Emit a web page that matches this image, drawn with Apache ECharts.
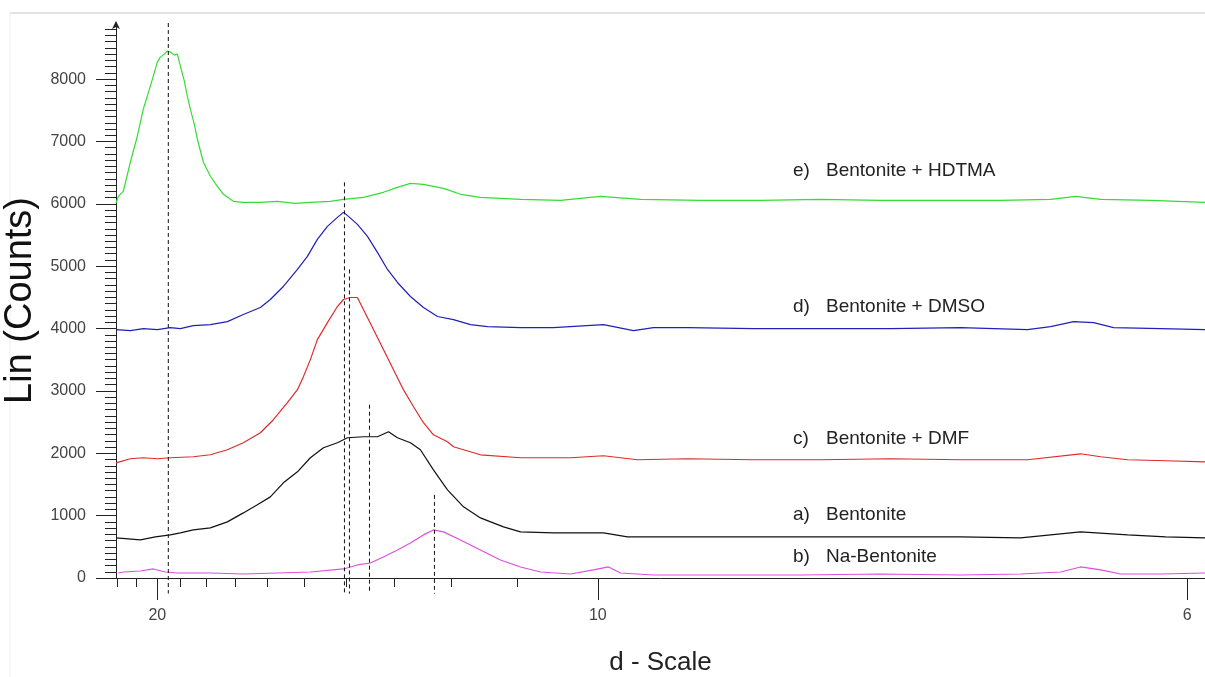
<!DOCTYPE html>
<html>
<head>
<meta charset="utf-8">
<script src="https://cdn.jsdelivr.net/npm/echarts@6/dist/echarts.min.js"></script>
<style>
html,body{margin:0;padding:0;background:#fff;}
#chart{width:1205px;height:677px;}
</style>
</head>
<body>
<div id="chart"></div>
<script>
// X-ray wavelength (Cu K-alpha), used to map d-spacing to 2-theta
const LAMBDA = 1.5406;

// Tick labels on the d-scale (Angstrom) and the unlabelled minor ticks
const dLabels = [20, 10, 6];
const dMinorTicks = [22, 21, 19, 18, 17, 16, 15, 14, 13, 12, 11];
const yTicks = [0, 1000, 2000, 3000, 4000, 5000, 6000, 7000, 8000];

// Series: [2-theta (deg), counts]
const hdtma = [[4.0,6010],[4.023,6120],[4.073,6201],[4.144,6667],[4.214,7084],[4.274,7518],[4.345,7887],[4.415,8273],[4.445,8353],[4.485,8401],[4.515,8450],[4.545,8434],[4.586,8385],[4.616,8401],[4.646,8209],[4.686,7968],[4.716,7727],[4.746,7518],[4.786,7277],[4.817,7036],[4.877,6667],[4.947,6442],[5.017,6281],[5.078,6153],[5.178,6040],[5.278,6024],[5.449,6024],[5.620,6040],[5.801,6008],[5.951,6024],[6.152,6040],[6.283,6072],[6.483,6104],[6.684,6185],[6.825,6265],[6.955,6329],[7.086,6313],[7.287,6249],[7.458,6153],[7.658,6104],[8.060,6072],[8.461,6056],[8.862,6120],[9.264,6072],[9.866,6056],[10.468,6056],[11.071,6072],[11.673,6056],[12.275,6056],[12.878,6056],[13.380,6072],[13.632,6120],[13.883,6072],[14.385,6056],[14.93,6024]];

const dmso = [[4.0,3984],[4.144,3968],[4.274,4000],[4.415,3984],[4.545,4016],[4.646,4000],[4.776,4048],[4.947,4064],[5.118,4112],[5.278,4225],[5.449,4337],[5.549,4466],[5.680,4675],[5.821,4948],[5.921,5157],[6.021,5430],[6.122,5638],[6.222,5783],[6.283,5863],[6.333,5799],[6.423,5671],[6.524,5478],[6.624,5221],[6.725,4948],[6.825,4739],[6.955,4514],[7.086,4337],[7.227,4193],[7.387,4144],[7.558,4064],[7.728,4032],[8.060,4016],[8.390,4016],[8.893,4064],[9.194,3968],[9.395,4016],[9.737,4016],[10.399,4000],[11.071,4000],[11.774,4000],[12.477,4016],[13.149,3984],[13.380,4032],[13.611,4112],[13.812,4096],[14.013,4016],[14.485,4000],[14.93,3984]];

const dmf = [[4.0,1847],[4.144,1912],[4.274,1928],[4.415,1912],[4.545,1928],[4.776,1944],[4.947,1976],[5.118,2056],[5.278,2169],[5.449,2329],[5.580,2538],[5.720,2811],[5.821,3020],[5.881,3229],[5.951,3502],[6.021,3823],[6.122,4096],[6.222,4353],[6.283,4466],[6.353,4498],[6.423,4498],[6.483,4305],[6.584,3984],[6.684,3663],[6.785,3341],[6.885,3020],[6.986,2747],[7.086,2490],[7.186,2297],[7.327,2185],[7.387,2104],[7.658,1976],[8.060,1928],[8.562,1928],[8.893,1960],[9.234,1896],[9.737,1912],[10.399,1896],[11.071,1896],[11.774,1912],[12.477,1896],[13.149,1896],[13.681,1992],[13.883,1944],[14.154,1896],[14.536,1880],[14.93,1863]];

const bentonite = [[4.0,643],[4.245,610],[4.395,659],[4.545,691],[4.646,723],[4.776,771],[4.947,803],[5.118,900],[5.278,1044],[5.419,1173],[5.549,1301],[5.680,1526],[5.821,1703],[5.951,1928],[6.082,2088],[6.222,2169],[6.323,2249],[6.483,2265],[6.624,2265],[6.735,2345],[6.825,2249],[6.955,2169],[7.055,2056],[7.186,1735],[7.327,1414],[7.488,1141],[7.658,964],[7.889,819],[8.060,739],[8.390,723],[8.893,723],[9.134,659],[9.737,659],[10.399,659],[11.071,659],[11.774,659],[12.477,659],[13.079,643],[13.681,739],[14.154,691],[14.536,659],[14.93,643]];

const naBentonite = [[4.023,80],[4.073,96],[4.245,112],[4.375,145],[4.495,96],[4.616,80],[4.947,80],[5.278,64],[5.620,80],[5.951,96],[6.283,145],[6.353,177],[6.423,209],[6.553,241],[6.684,337],[6.825,450],[6.955,562],[7.086,691],[7.186,771],[7.287,739],[7.458,610],[7.658,450],[7.859,289],[8.060,177],[8.261,96],[8.562,64],[8.792,129],[8.943,177],[9.064,80],[9.394,48],[10.067,48],[10.870,48],[11.673,64],[12.477,48],[13.079,64],[13.481,96],[13.681,177],[13.883,129],[14.083,64],[14.485,64],[14.93,80]];

// Dashed reference lines at peak positions: [2-theta, top count]
const peakMarks = [[4.525,8900],[6.293,6345],[6.343,4948],[6.544,2779],[7.196,1333]];

// Labels on the right, [letter, sample]
const sampleLabels = [['e)','Bentonite + HDTMA'],['d)','Bentonite + DMSO'],['c)','Bentonite + DMF'],['a)','Bentonite'],['b)','Na-Bentonite']];

function dToTwoTheta(d){ return 2 * Math.asin(LAMBDA / (2 * d)) * 180 / Math.PI; }
function twoThetaToD(t){ return LAMBDA / (2 * Math.sin(t / 2 * Math.PI / 180)); }

const chart = echarts.init(document.getElementById('chart'), null, {renderer:'canvas'});

const labelFont = '"Liberation Sans", Arial, sans-serif';
const lineSeries = [
  {data: hdtma, color: '#33dd33'},
  {data: dmso, color: '#2020bb'},
  {data: dmf, color: '#e02a2a'},
  {data: bentonite, color: '#111111'},
  {data: naBentonite, color: '#dd4fdd'}
].map(s => ({
  type: 'line', xAxisIndex: 0, yAxisIndex: 0, data: s.data, symbol: 'none',
  lineStyle: {color: s.color, width: 1.2}, silent: true, z: 3
}));

const markSeries = peakMarks.map(m => ({
  type: 'line', xAxisIndex: 0, yAxisIndex: 0, data: [[m[0], m[1]], [m[0], -250]],
  symbol: 'none', clip: false, silent: true, z: 4,
  lineStyle: {color: '#111', width: 1, type: [4, 3]}
}));

const labelTops = [172, 308, 440, 516, 558];
const graphics = [
  {type: 'line', shape: {x1: 10, y1: 13, x2: 1205, y2: 13}, style: {stroke: '#d9d9d9', lineWidth: 1.5}, silent: true},
  {type: 'line', shape: {x1: 10, y1: 13, x2: 10, y2: 677}, style: {stroke: '#eeeeee', lineWidth: 1}, silent: true}
];
sampleLabels.forEach((l, i) => {
  graphics.push({type: 'text', left: 793, top: labelTops[i] - 11, silent: true,
    style: {text: l[0], font: '19px "Liberation Sans", sans-serif', fill: '#222'}});
  graphics.push({type: 'text', left: 826, top: labelTops[i] - 11, silent: true,
    style: {text: l[1], font: '19px "Liberation Sans", sans-serif', fill: '#222'}});
});

const xMin = 4.0, xMax = 14.93;
chart.setOption({
  animation: false,
  backgroundColor: '#ffffff',
  grid: {left: 116, right: 0, top: 23, bottom: 99, containLabel: false, outerBoundsMode: 'none'},
  xAxis: [
    {
      type: 'value', min: xMin, max: xMax, position: 'bottom',
      name: 'd - Scale', nameLocation: 'middle', nameGap: 72,
      nameTextStyle: {fontSize: 26, color: '#222', fontFamily: labelFont},
      axisLine: {show: true, onZero: false, lineStyle: {color: '#222', width: 1}},
      axisTick: {show: true, inside: false, length: 22, lineStyle: {color: '#222'},
        customValues: dLabels.map(dToTwoTheta)},
      axisLabel: {show: true, margin: 30, fontSize: 16, color: '#444', fontFamily: labelFont,
        customValues: dLabels.map(dToTwoTheta),
        formatter: v => String(Math.round(twoThetaToD(v)))},
      splitLine: {show: false}
    },
    {
      type: 'value', min: xMin, max: xMax, position: 'bottom',
      axisLine: {show: false},
      axisTick: {show: true, inside: false, length: 9, lineStyle: {color: '#222'},
        customValues: dMinorTicks.map(dToTwoTheta)},
      axisLabel: {show: false},
      splitLine: {show: false}
    }
  ],
  yAxis: {
    type: 'value', min: 0, max: 8900, interval: 1000,
    name: 'Lin (Counts)', nameLocation: 'middle', nameGap: 70, nameRotate: 90,
    nameTextStyle: {fontSize: 38, color: '#111', fontFamily: labelFont},
    axisLine: {show: true, symbol: ['none', 'arrow'], symbolSize: [6, 8], symbolOffset: [0, 2],
      lineStyle: {color: '#222', width: 1}},
    axisTick: {show: true, inside: false, length: 20, lineStyle: {color: '#222'},
      customValues: yTicks},
    minorTick: {show: true, splitNumber: 10, length: 11, lineStyle: {color: '#222'}},
    axisLabel: {margin: 30, fontSize: 16, color: '#444', fontFamily: labelFont,
      customValues: yTicks, formatter: v => String(v)},
    splitLine: {show: false}
  },
  series: lineSeries.concat(markSeries),
  graphic: graphics
});
</script>
</body>
</html>
